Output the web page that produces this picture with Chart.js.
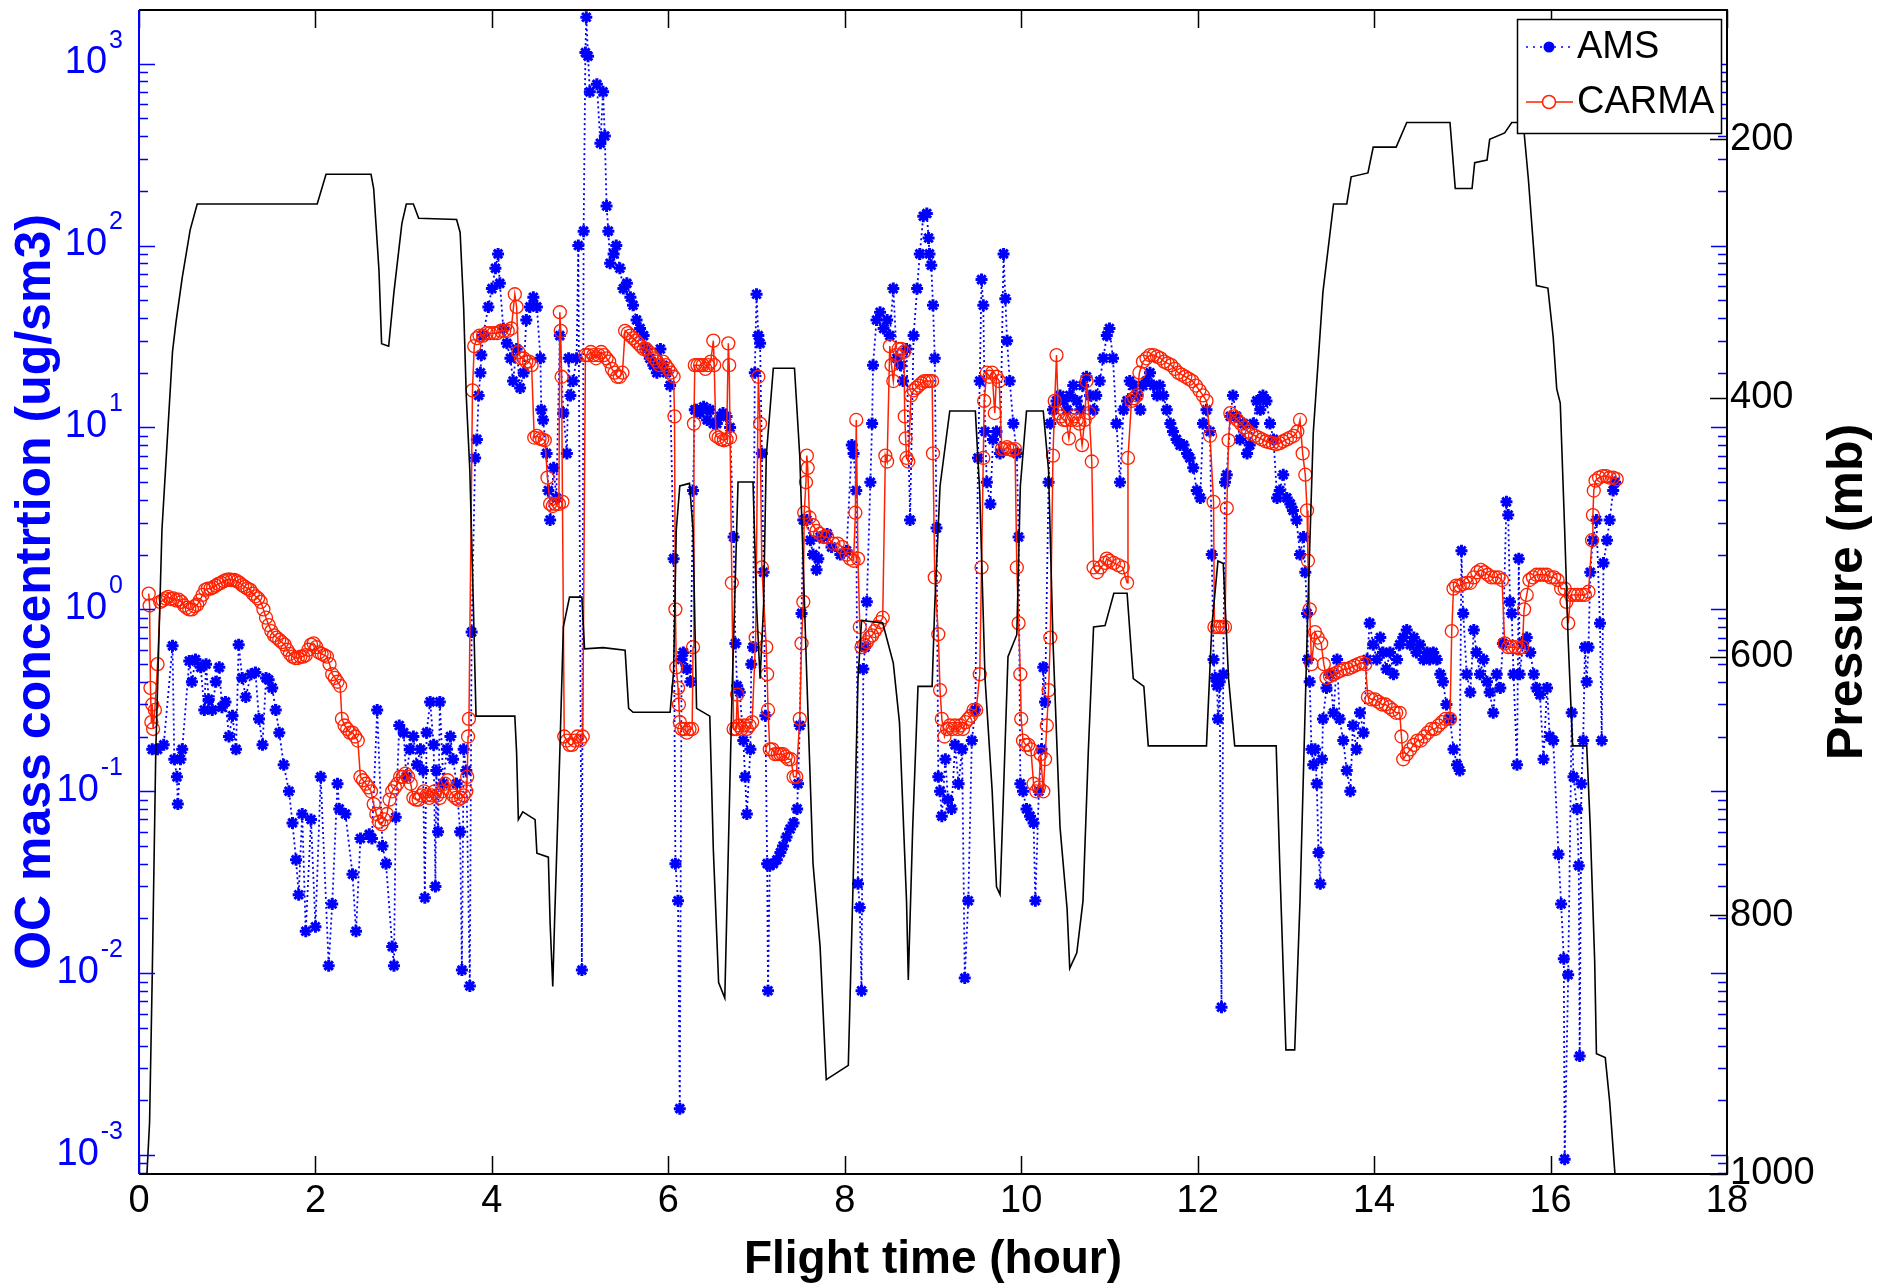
<!DOCTYPE html>
<html>
<head>
<meta charset="utf-8">
<script src="https://cdn.jsdelivr.net/npm/chart.js@4.4.1/dist/chart.umd.min.js"></script>
<style>
  html, body { margin: 0; padding: 0; background: #fff; }
  #wrap { width: 1878px; height: 1287px; }
</style>
</head>
<body>
<div id="wrap"><canvas id="grafico" width="1878" height="1287"></canvas></div>
<script>
// tick labels
const horasTicks = [0, 2, 4, 6, 8, 10, 12, 14, 16, 18];
const presionTicks = [200, 400, 600, 800, 1000];
const ocExponentes = [-3, -2, -1, 0, 1, 2, 3];

// AMS OC concentration [hour, ug/sm3]
const amsSerie = [
  [0.15,0.17],[0.21,0.17],[0.28,0.18],[0.38,0.63],[0.40,0.15],[0.43,0.12],[0.44,0.085],[0.47,0.15],[0.49,0.17],
  [0.57,0.52],[0.60,0.40],[0.64,0.53],[0.70,0.48],[0.74,0.28],[0.76,0.50],[0.79,0.32],[0.83,0.28],[0.87,0.40],
  [0.91,0.48],[0.94,0.29],[0.98,0.31],[1.02,0.20],[1.06,0.26],[1.10,0.17],[1.13,0.64],[1.17,0.42],[1.21,0.33],
  [1.27,0.44],[1.32,0.45],[1.36,0.25],[1.40,0.18],[1.44,0.42],[1.47,0.41],[1.51,0.37],[1.55,0.28],[1.59,0.21],
  [1.64,0.14],[1.70,0.10],[1.74,0.067],[1.78,0.042],[1.81,0.027],[1.85,0.075],[1.89,0.017],[1.95,0.070],[2.00,0.018],
  [2.06,0.12],[2.15,0.011],[2.19,0.024],[2.25,0.11],[2.27,0.08],[2.34,0.075],[2.42,0.035],[2.46,0.017],[2.51,0.055],
  [2.61,0.058],[2.64,0.055],[2.70,0.28],[2.76,0.05],[2.80,0.04],[2.87,0.014],[2.89,0.011],[2.91,0.072],[2.95,0.23],
  [3.00,0.21],[3.03,0.12],[3.07,0.17],[3.11,0.20],[3.15,0.14],[3.19,0.17],[3.22,0.13],[3.24,0.026],[3.26,0.21],
  [3.30,0.31],[3.34,0.18],[3.36,0.03],[3.37,0.13],[3.39,0.06],[3.41,0.31],[3.45,0.11],[3.49,0.17],[3.53,0.20],
  [3.56,0.15],[3.60,0.11],[3.64,0.06],[3.66,0.0104],[3.68,0.17],[3.71,0.13],[3.75,0.0085],[3.77,0.75],[3.81,6.8],
  [3.83,8.6],[3.85,15],[3.87,20],[3.88,25],[3.90,32],[3.96,46],[4.00,58],[4.04,75],[4.07,90],[4.09,62],[4.13,35],
  [4.17,29],[4.21,24],[4.24,18],[4.28,27],[4.32,16.5],[4.36,20],[4.39,39],[4.43,46],[4.47,52],[4.51,46],[4.55,24],
  [4.56,12.5],[4.58,11],[4.62,7.2],[4.64,4.5],[4.66,3.1],[4.70,6],[4.73,4.1],[4.77,32],[4.81,12],[4.85,7.2],[4.87,24],
  [4.89,15],[4.92,18],[4.96,24],[4.98,100],[5.02,0.0104],[5.04,120],[5.06,1150],[5.07,1800],[5.09,1100],[5.11,700],
  [5.19,770],[5.23,365],[5.26,700],[5.28,400],[5.30,165],[5.32,120],[5.34,80],[5.38,90],[5.41,100],[5.45,75],
  [5.49,58],[5.53,62],[5.57,52],[5.60,47],[5.64,39],[5.68,35],[5.72,32],[5.75,27],[5.79,24],[5.83,22],[5.87,20],
  [5.91,27],[5.94,22],[5.98,20],[6.02,17],[6.06,1.9],[6.08,0.04],[6.11,0.025],[6.13,0.0018],[6.15,0.53],[6.17,0.58],
  [6.21,0.47],[6.25,0.40],[6.28,4.5],[6.30,12.5],[6.32,12.5],[6.36,12],[6.40,13],[6.44,11],[6.47,12.5],[6.51,10.5],
  [6.55,10.5],[6.59,11.5],[6.62,12],[6.66,11.5],[6.70,10],[6.74,2.5],[6.76,0.65],[6.78,0.38],[6.81,0.35],[6.85,0.19],
  [6.87,0.12],[6.89,0.075],[6.93,0.17],[6.94,0.5],[6.96,0.62],[6.98,20],[7.00,54],[7.02,32],[7.04,29],[7.06,7.2],
  [7.08,1.6],[7.10,0.26],[7.12,0.04],[7.13,0.008],[7.15,0.039],[7.19,0.04],[7.23,0.042],[7.27,0.046],[7.30,0.05],
  [7.34,0.056],[7.38,0.062],[7.42,0.067],[7.46,0.08],[7.47,0.11],[7.49,0.23],[7.51,0.95],[7.53,3.1],[7.57,3.1],
  [7.61,2.4],[7.64,2.0],[7.68,1.65],[7.70,1.9],[7.72,2.5],[7.76,2.5],[7.80,2.6],[7.85,2.2],[7.95,2.0],[8.02,2.1],
  [8.08,8],[8.10,7.2],[8.13,4.5],[8.15,0.031],[8.17,0.023],[8.19,0.008],[8.21,0.47],[8.23,0.62],[8.25,1.1],[8.29,5],
  [8.31,10.5],[8.32,22],[8.36,39],[8.40,43],[8.44,35],[8.48,39],[8.51,32],[8.55,58],[8.59,24],[8.63,22],[8.66,18],
  [8.70,27],[8.74,3.1],[8.78,32],[8.82,58],[8.85,90],[8.89,145],[8.93,150],[8.95,110],[8.96,90],[8.98,78],[9.00,47],
  [9.02,24],[9.04,2.8],[9.06,0.12],[9.08,0.10],[9.10,0.073],[9.14,0.15],[9.17,0.09],[9.21,0.08],[9.25,0.18],
  [9.29,0.11],[9.33,0.17],[9.36,0.0094],[9.40,0.025],[9.44,0.19],[9.48,0.28],[9.51,6.8],[9.53,18],[9.55,65],[9.57,47],
  [9.59,9.5],[9.61,5],[9.65,3.8],[9.68,8.6],[9.72,9.5],[9.76,7.2],[9.80,90],[9.82,51],[9.84,30],[9.87,18],[9.91,10.5],
  [9.95,7.2],[9.97,2.5],[9.99,0.11],[10.02,0.10],[10.06,0.08],[10.10,0.073],[10.14,0.067],[10.16,0.025],[10.20,0.10],
  [10.23,0.17],[10.25,0.48],[10.27,0.31],[10.31,5],[10.33,10.5],[10.36,12.5],[10.40,14],[10.44,15],[10.48,14],
  [10.52,12.5],[10.55,15],[10.59,17],[10.63,14],[10.67,12.5],[10.70,17],[10.74,19],[10.78,15],[10.82,12.5],[10.85,15],
  [10.89,18],[10.93,24],[10.97,32],[11.00,35],[11.04,24],[11.08,10.5],[11.12,5],[11.16,12.5],[11.20,14],[11.23,18],
  [11.27,17],[11.31,15],[11.35,12.5],[11.38,17],[11.42,18],[11.46,20],[11.50,17],[11.54,15],[11.57,17],[11.61,15],
  [11.65,12.5],[11.69,10.5],[11.72,9.5],[11.76,8.6],[11.80,8],[11.84,8],[11.88,7.2],[11.91,6.8],[11.95,6],[11.99,4.5],
  [12.03,4.1],[12.06,10.5],[12.10,12.5],[12.14,9.5],[12.16,2.0],[12.18,0.53],[12.20,0.42],[12.22,0.38],[12.23,0.25],
  [12.25,0.40],[12.27,0.0065],[12.29,0.44],[12.31,5],[12.33,5.5],[12.37,11.5],[12.40,15],[12.44,11.5],[12.48,8.6],
  [12.52,10.5],[12.56,7.2],[12.59,8],[12.63,10.5],[12.67,14],[12.71,12.5],[12.74,15],[12.78,14],[12.82,10.5],
  [12.86,8.6],[12.90,4.1],[12.93,4.5],[12.97,5.5],[13.01,4.1],[13.05,3.8],[13.08,3.5],[13.12,3.1],[13.16,2.0],
  [13.20,2.5],[13.22,1.6],[13.24,0.95],[13.25,0.53],[13.27,0.40],[13.29,0.17],[13.31,0.14],[13.33,0.17],[13.35,0.11],
  [13.37,0.046],[13.39,0.031],[13.41,0.15],[13.42,0.25],[13.46,0.37],[13.50,0.44],[13.54,0.27],[13.58,0.53],
  [13.61,0.25],[13.65,0.19],[13.69,0.13],[13.73,0.10],[13.76,0.23],[13.80,0.17],[13.84,0.27],[13.88,0.21],[13.92,0.53],
  [13.95,0.84],[13.99,0.64],[14.03,0.53],[14.07,0.70],[14.10,0.58],[14.14,0.47],[14.18,0.58],[14.22,0.44],[14.26,0.53],
  [14.29,0.64],[14.33,0.70],[14.37,0.77],[14.41,0.64],[14.45,0.70],[14.48,0.58],[14.52,0.64],[14.56,0.53],[14.60,0.58],
  [14.63,0.53],[14.67,0.58],[14.71,0.53],[14.75,0.44],[14.78,0.40],[14.82,0.30],[14.86,0.25],[14.90,0.17],[14.94,0.14],
  [14.97,0.13],[14.99,2.1],[15.01,0.95],[15.05,0.44],[15.09,0.35],[15.13,0.77],[15.16,0.58],[15.20,0.44],[15.24,0.53],
  [15.28,0.40],[15.31,0.35],[15.35,0.27],[15.39,0.44],[15.43,0.37],[15.46,0.65],[15.50,3.9],[15.52,3.3],[15.54,1.1],
  [15.56,0.95],[15.58,0.44],[15.62,0.14],[15.64,1.9],[15.65,0.44],[15.69,0.65],[15.73,0.70],[15.77,0.58],[15.81,0.44],
  [15.84,0.37],[15.88,0.34],[15.92,0.15],[15.96,0.37],[15.99,0.20],[16.03,0.19],[16.09,0.045],[16.12,0.024],
  [16.15,0.012],[16.16,0.00095],[16.20,0.0098],[16.24,0.27],[16.26,0.12],[16.30,0.08],[16.32,0.039],[16.33,0.0035],
  [16.35,0.11],[16.37,0.19],[16.39,0.62],[16.41,0.40],[16.43,0.62],[16.45,1.6],[16.48,2.4],[16.52,3.1],[16.56,0.84],
  [16.58,0.19],[16.60,1.8],[16.64,2.4],[16.67,3.1],[16.71,4.5],[16.73,5.0]
];

// CARMA OC concentration [hour, ug/sm3]
const carmaSerie = [
  [0.11,1.22],[0.12,1.05],[0.13,0.37],[0.14,0.24],[0.15,0.30],[0.16,0.22],[0.18,0.28],[0.21,0.5],[0.24,1.1],[0.27,1.12],
  [0.30,1.15],[0.33,1.17],[0.36,1.14],[0.39,1.15],[0.42,1.12],[0.45,1.13],[0.48,1.10],[0.51,1.05],[0.54,1.02],[0.57,1.0],
  [0.60,1.0],[0.63,1.04],[0.66,1.06],[0.69,1.12],[0.72,1.2],[0.75,1.28],[0.78,1.3],[0.81,1.3],[0.84,1.32],[0.87,1.35],
  [0.90,1.38],[0.93,1.4],[0.96,1.43],[0.99,1.45],[1.02,1.46],[1.05,1.45],[1.08,1.45],[1.11,1.43],[1.14,1.4],[1.17,1.36],
  [1.20,1.33],[1.23,1.3],[1.26,1.28],[1.29,1.22],[1.32,1.18],[1.35,1.15],[1.38,1.1],[1.41,1.0],[1.44,0.9],[1.47,0.82],
  [1.50,0.76],[1.53,0.72],[1.56,0.7],[1.59,0.68],[1.62,0.66],[1.65,0.64],[1.68,0.6],[1.71,0.57],[1.74,0.55],[1.77,0.54],
  [1.80,0.54],[1.83,0.55],[1.86,0.55],[1.89,0.56],[1.92,0.6],[1.95,0.64],[1.98,0.65],[2.01,0.62],[2.04,0.58],[2.07,0.57],
  [2.10,0.56],[2.13,0.55],[2.16,0.5],[2.19,0.44],[2.22,0.42],[2.25,0.40],[2.28,0.38],[2.30,0.25],[2.33,0.23],[2.36,0.22],
  [2.39,0.21],[2.42,0.21],[2.45,0.2],[2.48,0.19],[2.51,0.12],[2.54,0.115],[2.57,0.11],[2.60,0.105],[2.63,0.1],[2.66,0.085],
  [2.69,0.075],[2.72,0.068],[2.75,0.066],[2.78,0.07],[2.81,0.075],[2.84,0.09],[2.87,0.1],[2.90,0.105],[2.93,0.11],
  [2.96,0.12],[2.99,0.12],[3.02,0.125],[3.05,0.12],[3.08,0.11],[3.11,0.092],[3.14,0.09],[3.17,0.09],[3.20,0.095],
  [3.23,0.10],[3.26,0.095],[3.29,0.092],[3.32,0.095],[3.35,0.10],[3.38,0.095],[3.41,0.092],[3.44,0.10],[3.47,0.11],
  [3.50,0.115],[3.53,0.10],[3.56,0.095],[3.59,0.092],[3.62,0.09],[3.65,0.092],[3.68,0.095],[3.71,0.10],[3.72,0.12],
  [3.73,0.2],[3.74,0.25],[3.78,16],[3.80,28],[3.83,31],[3.86,32],[3.90,32],[3.94,33],[3.98,33],[4.02,33],[4.06,33],
  [4.10,34],[4.14,34],[4.18,34],[4.22,35],[4.26,54],[4.28,46],[4.30,26],[4.33,24],[4.36,24],[4.39,23],[4.42,23],
  [4.45,22],[4.48,8.8],[4.51,9],[4.54,8.7],[4.57,8.6],[4.60,8.5],[4.63,5.3],[4.66,3.8],[4.69,3.7],[4.72,3.8],[4.76,3.8],
  [4.77,43],[4.78,34],[4.79,19],[4.80,3.9],[4.82,0.2],[4.85,0.19],[4.88,0.18],[4.91,0.18],[4.94,0.19],[4.97,0.2],
  [5.00,0.19],[5.03,0.2],[5.06,25],[5.09,25],[5.12,26],[5.15,25],[5.18,24],[5.21,25],[5.24,26],[5.27,25],[5.30,24],
  [5.33,23],[5.36,21],[5.39,20],[5.42,19],[5.45,19],[5.48,20],[5.51,34],[5.54,33],[5.57,32],[5.60,31],[5.63,30],
  [5.66,29],[5.69,28],[5.72,27],[5.75,27],[5.78,26],[5.81,25],[5.84,24],[5.87,23],[5.90,22],[5.94,23],[5.97,22],
  [6.00,21],[6.03,20],[6.06,19],[6.07,11.5],[6.08,1.0],[6.09,0.48],[6.11,0.37],[6.12,0.30],[6.13,0.24],[6.15,0.22],
  [6.18,0.22],[6.21,0.21],[6.24,0.22],[6.27,0.22],[6.28,0.62],[6.29,10.5],[6.30,22],[6.33,22],[6.36,22],[6.39,22],
  [6.42,21],[6.45,22],[6.48,23],[6.51,30],[6.52,22],[6.54,9],[6.57,8.8],[6.60,8.6],[6.63,8.5],[6.66,8.6],[6.68,29],
  [6.69,22],[6.70,8.8],[6.72,1.4],[6.74,0.22],[6.77,0.22],[6.78,0.34],[6.80,0.23],[6.83,0.22],[6.86,0.23],[6.89,0.22],
  [6.92,0.23],[6.95,0.24],[6.99,0.7],[7.02,19],[7.04,10.5],[7.06,1.7],[7.11,0.62],[7.12,0.44],[7.13,0.28],[7.15,0.17],
  [7.18,0.17],[7.21,0.16],[7.24,0.16],[7.27,0.16],[7.30,0.16],[7.33,0.155],[7.36,0.15],[7.39,0.15],[7.42,0.12],
  [7.45,0.12],[7.49,0.25],[7.51,0.65],[7.53,1.1],[7.54,3.4],[7.56,5],[7.57,7],[7.58,6],[7.60,3.2],[7.64,2.9],[7.68,2.7],
  [7.72,2.6],[7.76,2.5],[7.80,2.5],[7.87,2.3],[7.92,2.3],[7.97,2.2],[8.02,2.0],[8.06,1.9],[8.10,1.85],[8.12,3.4],
  [8.13,11],[8.15,1.9],[8.17,0.8],[8.19,0.62],[8.22,0.64],[8.25,0.66],[8.28,0.7],[8.31,0.72],[8.34,0.76],[8.37,0.8],
  [8.40,0.85],[8.43,0.9],[8.46,7],[8.48,6.5],[8.51,28],[8.53,22],[8.55,18],[8.58,25],[8.61,27],[8.64,27],[8.67,26],
  [8.68,11.5],[8.69,8.7],[8.70,6.8],[8.72,6.5],[8.75,15],[8.78,16],[8.81,16.5],[8.84,17],[8.87,17.5],[8.90,18],
  [8.93,18],[8.96,18],[8.99,18],[9.00,7.2],[9.02,1.5],[9.06,0.73],[9.08,0.36],[9.10,0.25],[9.13,0.2],[9.16,0.22],
  [9.19,0.23],[9.22,0.22],[9.25,0.23],[9.28,0.22],[9.31,0.23],[9.34,0.22],[9.37,0.24],[9.40,0.25],[9.43,0.26],
  [9.46,0.28],[9.49,0.28],[9.53,0.44],[9.55,1.7],[9.57,6.8],[9.58,14],[9.61,20],[9.64,19],[9.67,20],[9.70,12],
  [9.72,19],[9.75,18],[9.78,7.6],[9.81,7.6],[9.84,7.8],[9.87,7.6],[9.90,7.5],[9.93,7.6],[9.95,1.7],[9.97,0.84],
  [9.99,0.44],[10.00,0.25],[10.02,0.19],[10.05,0.18],[10.08,0.18],[10.11,0.17],[10.14,0.11],[10.17,0.1],[10.20,0.105],
  [10.22,0.16],[10.25,0.1],[10.27,0.15],[10.29,0.23],[10.31,0.36],[10.33,0.7],[10.36,7],[10.38,14],[10.40,25],
  [10.42,12],[10.45,11.5],[10.48,11],[10.51,11],[10.54,8.7],[10.57,11],[10.60,11.5],[10.63,11],[10.66,10.5],[10.69,8],
  [10.72,11],[10.74,18],[10.77,12],[10.80,6.5],[10.82,1.7],[10.86,1.6],[10.90,1.7],[10.95,1.8],[10.97,1.9],[11.00,1.85],
  [11.05,1.8],[11.10,1.75],[11.15,1.7],[11.20,1.4],[11.21,6.8],[11.25,14],[11.28,14.5],[11.31,15],[11.34,20],[11.38,23],
  [11.42,24],[11.46,25],[11.50,25],[11.54,24.5],[11.58,24],[11.62,23],[11.66,22.5],[11.70,22],[11.74,21],[11.78,20],
  [11.82,19.5],[11.86,19],[11.90,18.5],[11.94,18],[11.98,17],[12.02,16],[12.06,15],[12.10,14],[12.14,9],[12.18,3.9],
  [12.19,0.8],[12.22,0.8],[12.25,0.8],[12.28,0.8],[12.31,0.8],[12.33,3.6],[12.35,8.5],[12.37,12],[12.41,11.5],
  [12.45,11],[12.49,10.5],[12.53,10],[12.57,9.5],[12.61,9.2],[12.65,9],[12.69,8.8],[12.73,8.6],[12.77,8.4],[12.81,8.3],
  [12.85,8.2],[12.89,8.1],[12.93,8.2],[12.97,8.4],[13.01,8.6],[13.05,8.8],[13.09,9],[13.13,9.5],[13.16,11],[13.19,7.2],
  [13.22,5.5],[13.24,3.5],[13.25,1.85],[13.27,1.0],[13.29,0.5],[13.33,0.75],[13.36,0.7],[13.40,0.65],[13.43,0.5],
  [13.46,0.42],[13.50,0.43],[13.54,0.44],[13.58,0.45],[13.62,0.46],[13.66,0.47],[13.70,0.47],[13.74,0.48],[13.78,0.49],
  [13.82,0.5],[13.86,0.51],[13.90,0.5],[13.93,0.33],[13.97,0.32],[14.01,0.32],[14.05,0.31],[14.09,0.3],[14.13,0.3],
  [14.17,0.29],[14.21,0.28],[14.25,0.27],[14.29,0.27],[14.31,0.2],[14.33,0.15],[14.37,0.16],[14.41,0.17],[14.45,0.18],
  [14.49,0.19],[14.53,0.19],[14.57,0.2],[14.61,0.21],[14.65,0.22],[14.69,0.22],[14.73,0.23],[14.77,0.24],[14.81,0.25],
  [14.86,0.25],[14.88,0.76],[14.90,1.3],[14.93,1.35],[14.97,1.35],[15.01,1.38],[15.05,1.4],[15.09,1.4],[15.13,1.5],
  [15.17,1.6],[15.21,1.65],[15.25,1.6],[15.29,1.55],[15.33,1.5],[15.37,1.5],[15.41,1.5],[15.45,1.45],[15.48,0.65],
  [15.52,0.62],[15.56,0.62],[15.60,0.62],[15.64,0.61],[15.68,0.62],[15.70,1.0],[15.73,1.2],[15.76,1.45],[15.80,1.5],
  [15.84,1.55],[15.88,1.55],[15.92,1.55],[15.96,1.55],[16.00,1.5],[16.04,1.5],[16.08,1.45],[16.12,1.3],[16.16,1.3],
  [16.18,1.1],[16.20,0.84],[16.23,1.2],[16.27,1.2],[16.31,1.2],[16.35,1.2],[16.39,1.2],[16.43,1.25],[16.47,2.4],
  [16.48,3.3],[16.49,4.5],[16.51,5.1],[16.55,5.3],[16.59,5.4],[16.63,5.4],[16.67,5.3],[16.71,5.3],[16.75,5.2]
];

// Pressure [hour, mb]
const presionSerie = [
  [0.09,1000],[0.12,960],[0.15,847],[0.19,674],[0.26,502],[0.38,364],[0.42,341],[0.49,307],[0.58,270],[0.66,250],
  [2.02,250],[2.12,227],[2.63,227],[2.66,238],[2.72,301],[2.75,358],[2.83,360],[2.89,318],[2.98,265],[3.03,250],
  [3.11,250],[3.17,261],[3.60,262],[3.64,272],[3.68,330],[3.71,399],[3.75,456],[3.79,560],[3.82,646],[4.26,646],
  [4.28,674],[4.30,726],[4.35,720],[4.49,726],[4.51,752],[4.64,755],[4.66,806],[4.69,855],[4.71,806],[4.77,674],
  [4.81,577],[4.88,554],[5.02,554],[5.05,594],[5.26,593],[5.51,595],[5.55,640],[5.60,643],[6.02,643],[6.06,611],
  [6.09,502],[6.13,468],[6.24,466],[6.28,502],[6.32,640],[6.47,646],[6.51,749],[6.57,852],[6.64,864],[6.68,749],
  [6.72,634],[6.79,465],[6.96,465],[7.00,560],[7.04,617],[7.08,560],[7.11,445],[7.19,377],[7.43,377],[7.49,445],
  [7.57,617],[7.64,760],[7.72,824],[7.79,927],[8.04,916],[8.10,760],[8.15,617],[8.19,572],[8.43,574],[8.55,605],
  [8.62,651],[8.70,789],[8.72,850],[8.77,732],[8.83,623],[8.99,623],[9.02,560],[9.08,468],[9.19,410],[9.48,410],
  [9.53,473],[9.59,617],[9.67,703],[9.72,778],[9.76,784],[9.80,703],[9.85,600],[9.95,583],[9.99,468],[10.06,410],
  [10.25,410],[10.31,456],[10.36,588],[10.44,732],[10.52,795],[10.55,841],[10.63,829],[10.70,789],[10.76,674],
  [10.82,577],[10.95,576],[11.05,551],[11.20,551],[11.27,617],[11.39,623],[11.44,669],[12.10,669],[12.16,577],
  [12.23,526],[12.29,528],[12.35,617],[12.42,669],[12.89,669],[12.93,760],[13.00,904],[13.10,904],[13.16,789],
  [13.25,560],[13.31,427],[13.42,318],[13.54,250],[13.69,250],[13.74,229],[13.93,226],[13.99,206],[14.25,206],
  [14.37,187],[14.86,187],[14.92,238],[15.11,238],[15.14,218],[15.28,216],[15.31,200],[15.48,195],[15.56,187],
  [15.69,187],[15.75,232],[15.84,313],[15.97,315],[16.03,353],[16.07,393],[16.11,404],[16.16,502],[16.20,588],
  [16.25,669],[16.41,669],[16.45,732],[16.50,835],[16.52,907],[16.62,910],[16.67,944],[16.73,1000]
];

const FUENTE = '"Liberation Sans", Arial, Helvetica, sans-serif';
const AZUL = '#0000ff';
const ROJO = '#ff2000';

// axes, ticks, labels, titles and legend drawn MATLAB-style
const marco = {
  id: 'marco',
  afterDraw(chart) {
    const { ctx, chartArea: a, scales } = chart;
    const sx = scales.x, sy = scales.y, sp = scales.y2;
    ctx.save();
    ctx.lineWidth = 1.5;

    // log ticks, left and mirrored on the right
    ctx.strokeStyle = AZUL;
    for (let e = -4; e <= 3; e++) {
      for (let m = 1; m <= 9; m++) {
        const v = m * Math.pow(10, e);
        if (v < sy.min || v > sy.max) continue;
        const y = Math.round(sy.getPixelForValue(v)) + 0.5;
        const len = m === 1 ? 16 : 9;
        ctx.beginPath();
        ctx.moveTo(a.left, y); ctx.lineTo(a.left + len, y);
        ctx.moveTo(a.right, y); ctx.lineTo(a.right - len, y);
        ctx.stroke();
      }
    }

    // pressure ticks
    ctx.strokeStyle = '#000';
    presionTicks.forEach(p => {
      const y = Math.round(sp.getPixelForValue(p)) + 0.5;
      ctx.beginPath();
      ctx.moveTo(a.right, y); ctx.lineTo(a.right - 17, y);
      ctx.stroke();
    });

    // hour ticks top and bottom
    horasTicks.forEach(t => {
      const x = Math.round(sx.getPixelForValue(t)) + 0.5;
      ctx.beginPath();
      ctx.moveTo(x, a.bottom); ctx.lineTo(x, a.bottom - 18);
      ctx.moveTo(x, a.top); ctx.lineTo(x, a.top + 18);
      ctx.stroke();
    });

    // box
    ctx.lineWidth = 2;
    ctx.strokeStyle = '#000';
    ctx.beginPath();
    ctx.moveTo(a.left, a.top); ctx.lineTo(a.right, a.top);
    ctx.lineTo(a.right, a.bottom); ctx.lineTo(a.left, a.bottom);
    ctx.stroke();
    ctx.strokeStyle = AZUL;
    ctx.beginPath();
    ctx.moveTo(a.left, a.top); ctx.lineTo(a.left, a.bottom);
    ctx.stroke();

    // tick labels
    ctx.fillStyle = '#000';
    ctx.font = '38px ' + FUENTE;
    ctx.textAlign = 'center';
    ctx.textBaseline = 'middle';
    horasTicks.forEach(t => ctx.fillText(String(t), sx.getPixelForValue(t), 1202));

    ctx.textAlign = 'left';
    presionTicks.forEach(p => ctx.fillText(String(p), a.right + 3, sp.getPixelForValue(p)));

    ctx.fillStyle = AZUL;
    ocExponentes.forEach(e => {
      const y = sy.getPixelForValue(Math.pow(10, e));
      const sup = String(e);
      ctx.font = '25px ' + FUENTE;
      const we = ctx.measureText(sup).width;
      ctx.font = '38px ' + FUENTE;
      const wb = ctx.measureText('10').width;
      const derecha = 123;
      ctx.fillText('10', derecha - we - wb - 2, y - 1);
      ctx.font = '25px ' + FUENTE;
      ctx.fillText(sup, derecha - we, y - 23);
    });

    // axis titles
    ctx.textAlign = 'center';
    ctx.font = 'bold 46px ' + FUENTE;
    ctx.fillStyle = '#000';
    ctx.fillText('Flight time (hour)', (a.left + a.right) / 2, 1260);

    const cy = (a.top + a.bottom) / 2;
    ctx.font = 'bold 50px ' + FUENTE;
    ctx.save();
    ctx.translate(36, cy);
    ctx.rotate(-Math.PI / 2);
    ctx.fillStyle = AZUL;
    ctx.fillText('OC mass concentrtion (ug/sm3)', 0, 0);
    ctx.restore();
    ctx.save();
    ctx.translate(1848, cy);
    ctx.rotate(-Math.PI / 2);
    ctx.fillStyle = '#000';
    ctx.fillText('Pressure (mb)', 0, 0);
    ctx.restore();

    // legend
    ctx.fillStyle = '#fff';
    ctx.fillRect(1517, 19, 204, 114);
    ctx.lineWidth = 1.5;
    ctx.strokeStyle = '#000';
    ctx.strokeRect(1517.5, 19.5, 204, 114);

    ctx.strokeStyle = AZUL;
    ctx.setLineDash([2, 5]);
    ctx.beginPath(); ctx.moveTo(1526, 47); ctx.lineTo(1573, 47); ctx.stroke();
    ctx.setLineDash([]);
    ctx.fillStyle = AZUL;
    ctx.beginPath(); ctx.arc(1549, 47, 5.5, 0, Math.PI * 2); ctx.fill();

    ctx.strokeStyle = ROJO;
    ctx.beginPath(); ctx.moveTo(1526, 102); ctx.lineTo(1573, 102); ctx.stroke();
    ctx.fillStyle = '#fff';
    ctx.beginPath(); ctx.arc(1549, 102, 6.5, 0, Math.PI * 2); ctx.fill(); ctx.stroke();

    ctx.fillStyle = '#000';
    ctx.font = '38px ' + FUENTE;
    ctx.textAlign = 'left';
    ctx.fillText('AMS', 1577, 48);
    ctx.fillText('CARMA', 1577, 103);
    ctx.restore();
  }
};

const ctx = document.getElementById('grafico').getContext('2d');

new Chart(ctx, {
  type: 'line',
  data: {
    datasets: [
      {
        label: 'AMS',
        data: amsSerie.map(([t, v]) => ({ x: t, y: v })),
        yAxisID: 'y',
        borderColor: AZUL,
        borderWidth: 1.8,
        borderDash: [2, 3],
        pointStyle: 'star',
        pointRadius: 6,
        pointBorderWidth: 3,
        pointBorderColor: AZUL,
        pointBackgroundColor: AZUL,
        order: 3
      },
      {
        label: 'CARMA',
        data: carmaSerie.map(([t, v]) => ({ x: t, y: v })),
        yAxisID: 'y',
        borderColor: ROJO,
        borderWidth: 1.5,
        pointStyle: 'circle',
        pointRadius: 6.5,
        pointBorderWidth: 1.3,
        pointBorderColor: ROJO,
        pointBackgroundColor: 'rgba(0,0,0,0)',
        order: 2
      },
      {
        label: 'Pressure',
        data: presionSerie.map(([t, p]) => ({ x: t, y: p })),
        yAxisID: 'y2',
        borderColor: '#000',
        borderWidth: 1.6,
        pointRadius: 0,
        order: 1
      }
    ]
  },
  options: {
    responsive: false,
    animation: false,
    events: [],
    layout: { padding: { top: 10, left: 0, right: 0, bottom: 0 } },
    plugins: { legend: { display: false }, tooltip: { enabled: false } },
    scales: {
      x: {
        type: 'linear', min: 0, max: 18,
        grid: { display: false }, border: { display: false }, ticks: { display: false },
        afterFit: s => { s.height = 113; }
      },
      y: {
        type: 'logarithmic', position: 'left',
        min: Math.pow(10, -3.104), max: Math.pow(10, 3.295),
        grid: { display: false }, border: { display: false }, ticks: { display: false },
        afterFit: s => { s.width = 139; }
      },
      y2: {
        type: 'linear', position: 'right', min: 100, max: 1000, reverse: true,
        grid: { display: false }, border: { display: false }, ticks: { display: false },
        afterFit: s => { s.width = 151; }
      }
    }
  },
  plugins: [marco]
});
</script>
</body>
</html>
